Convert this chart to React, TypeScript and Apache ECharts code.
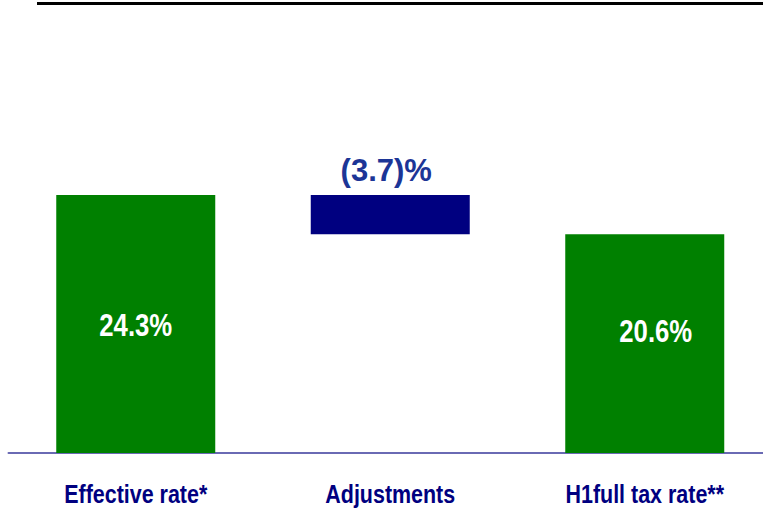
import React, { useEffect, useRef } from "react";
import * as echarts from "echarts";

const categories = ["Effective rate*", "Adjustments", "H1full tax rate**"];
const baseValues = [0, 20.6, 0];
const barValues = [24.3, 3.7, 20.6];
const barLabels = ["24.3%", "(3.7)%", "20.6%"];

const FONT = "'Liberation Sans', Arial, sans-serif";

export default function App() {
  const ref = useRef<HTMLDivElement>(null);
  useEffect(() => {
    if (!ref.current) return;
    const chart = echarts.init(ref.current, undefined, { renderer: "svg" });
    chart.setOption({
      animation: false,
      backgroundColor: "#ffffff",
      grid: {
        left: 8.5,
        width: 763.5,
        top: 28.3,
        height: 424.7,
        containLabel: false,
        outerBoundsMode: "none",
      },
      xAxis: {
        type: "category",
        data: categories,
        axisLine: { show: true, lineStyle: { color: "#6a6ab4", width: 2 } },
        axisTick: { show: false },
        axisLabel: { show: false },
      },
      yAxis: {
        type: "value",
        min: 0,
        max: 40,
        show: false,
        splitLine: { show: false },
      },
      graphic: [
        {
          type: "line",
          shape: { x1: 37, y1: 3.5, x2: 763, y2: 3.5 },
          style: { stroke: "#000000", lineWidth: 3 },
        },
      ],
      series: [
        {
          type: "bar",
          stack: "w",
          data: baseValues,
          barWidth: 159,
          itemStyle: { color: "transparent" },
          emphasis: { disabled: true },
          silent: true,
        },
        {
          type: "bar",
          stack: "w",
          barWidth: 159,
          data: barValues.map((v, i) => ({
            value: v,
            itemStyle: { color: i === 1 ? "#000080" : "#008000" },
            label:
              i === 1
                ? {
                    show: true,
                    position: "top",
                    distance: 7,
                    offset: [-4, -2],
                    formatter: barLabels[i],
                    color: "#1c3596",
                    fontFamily: FONT,
                    fontWeight: "bold",
                    fontSize: 31,
                  }
                : { show: false },
          })),
        },
        {
          type: "custom",
          clip: false,
          silent: true,
          z: 10,
          data: categories.map((_, i) => [i, baseValues[i], barValues[i]]),
          renderItem: (params: any, api: any) => {
            const i = api.value(0);
            const base = api.coord([i, 0]);
            const children: any[] = [
              {
                type: "text",
                x: base[0],
                y: base[1] + 40.5,
                scaleX: 0.825,
                z2: 100,
                style: {
                  text: categories[i],
                  fill: "#000080",
                  fontFamily: FONT,
                  fontWeight: "bold",
                  fontSize: 26,
                  align: "center",
                  verticalAlign: "middle",
                },
              },
            ];
            if (i !== 1) {
              const mid = api.coord([i, baseValues[i] + barValues[i] / 2]);
              children.push({
                type: "text",
                x: mid[0] + (i === 2 ? 11 : 0),
                y: mid[1] + (i === 2 ? -13 : 1),
                scaleX: 0.83,
                z2: 100,
                style: {
                  text: barLabels[i],
                  fill: "#ffffff",
                  fontFamily: FONT,
                  fontWeight: "bold",
                  fontSize: 31,
                  align: "center",
                  verticalAlign: "middle",
                },
              });
            }
            return { type: "group", children };
          },
        },
      ],
    });
    return () => chart.dispose();
  }, []);
  return (
    <div
      ref={ref}
      style={{ position: "fixed", left: 0, top: 0, width: 763, height: 508 }}
    />
  );
}
